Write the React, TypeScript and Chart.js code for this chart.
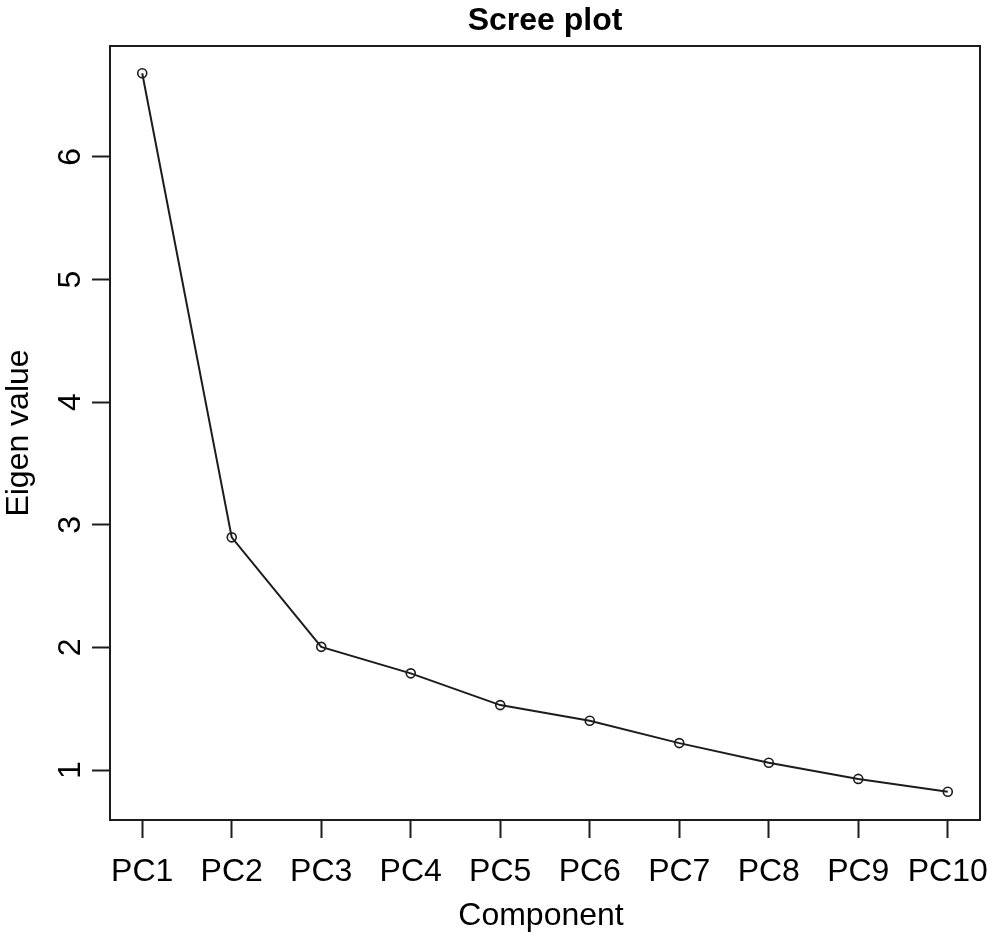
import React, { useEffect, useRef } from "react";
import { Chart, registerables } from "chart.js";

Chart.register(...registerables);

const COMPONENTS = ["PC1", "PC2", "PC3", "PC4", "PC5", "PC6", "PC7", "PC8", "PC9", "PC10"];
const EIGENVALUES = [6.683, 2.898, 2.005, 1.789, 1.53, 1.402, 1.22, 1.06, 0.928, 0.823];
const Y_TICKS = [1, 2, 3, 4, 5, 6];
const TITLE = "Scree plot";
const X_TITLE = "Component";
const Y_TITLE = "Eigen value";
const X_RANGE = [0.64, 10.36];
const Y_RANGE = [0.593, 6.905];

const FONT = '"Liberation Sans", Arial, Helvetica, sans-serif';
const INK = "#1c1c1c";

const textPlugin = {
  id: "rText",
  afterDraw(chart: any) {
    const ctx = chart.ctx as CanvasRenderingContext2D;
    const area = chart.chartArea;
    const xs = chart.scales.x;
    const ys = chart.scales.y;
    ctx.save();
    // box
    ctx.strokeStyle = INK;
    ctx.lineWidth = 2;
    ctx.strokeRect(area.left, area.top, area.right - area.left, area.bottom - area.top);
    ctx.fillStyle = "#000";
    // title
    ctx.font = `bold 32px ${FONT}`;
    ctx.textAlign = "center";
    ctx.textBaseline = "alphabetic";
    const cx = (area.left + area.right) / 2;
    ctx.fillText(TITLE, cx, 30);
    // x tick labels
    ctx.font = `32px ${FONT}`;
    COMPONENTS.forEach((lab, i) => {
      ctx.fillText(lab, xs.getPixelForValue(i + 1), 881);
    });
    // x title
    ctx.fillText(X_TITLE, cx - 4, 925);
    // y tick labels rotated
    Y_TICKS.forEach((v) => {
      ctx.save();
      ctx.translate(80, ys.getPixelForValue(v));
      ctx.rotate(-Math.PI / 2);
      ctx.textAlign = "center";
      ctx.fillText(String(v), 0, 0);
      ctx.restore();
    });
    // y title
    ctx.save();
    ctx.translate(28, (area.top + area.bottom) / 2);
    ctx.rotate(-Math.PI / 2);
    ctx.textAlign = "center";
    ctx.fillText(Y_TITLE, 0, 0);
    ctx.restore();
    ctx.restore();
  },
};

export default function App() {
  const ref = useRef<HTMLCanvasElement | null>(null);
  useEffect(() => {
    document.body.style.margin = "0";
    const canvas = ref.current;
    if (!canvas) return;
    const chart = new Chart(canvas, {
      type: "line",
      data: {
        datasets: [
          {
            data: EIGENVALUES.map((y, i) => ({ x: i + 1, y })),
            borderColor: INK,
            borderWidth: 2,
            pointRadius: 4.5,
            pointBorderWidth: 1.6,
            pointBorderColor: INK,
            pointBackgroundColor: "rgba(0,0,0,0)",
            tension: 0,
            fill: false,
          },
        ],
      },
      options: {
        animation: false,
        responsive: false,
        devicePixelRatio: 1,
        layout: { padding: { top: 46, right: 12, left: 0, bottom: 0 } },
        plugins: { legend: { display: false }, title: { display: false }, tooltip: { enabled: false } },
        scales: {
          x: {
            type: "linear",
            min: X_RANGE[0],
            max: X_RANGE[1],
            afterBuildTicks: (s: any) => {
              s.ticks = COMPONENTS.map((_, i) => ({ value: i + 1 }));
            },
            afterFit: (s: any) => {
              s.height = 116;
            },
            ticks: { display: false },
            grid: { drawOnChartArea: false, drawTicks: true, tickLength: 18, tickWidth: 2, tickColor: INK },
            border: { display: false },
          },
          y: {
            type: "linear",
            min: Y_RANGE[0],
            max: Y_RANGE[1],
            afterBuildTicks: (s: any) => {
              s.ticks = Y_TICKS.map((v) => ({ value: v }));
            },
            afterFit: (s: any) => {
              s.width = 110;
            },
            ticks: { display: false },
            grid: { drawOnChartArea: false, drawTicks: true, tickLength: 18, tickWidth: 2, tickColor: INK },
            border: { display: false },
          },
        },
      } as any,
      plugins: [textPlugin],
    });
    return () => chart.destroy();
  }, []);
  return (
    <div style={{ width: 992, height: 936, background: "#fff" }}>
      <canvas ref={ref} width={992} height={936} style={{ display: "block" }} />
    </div>
  );
}
